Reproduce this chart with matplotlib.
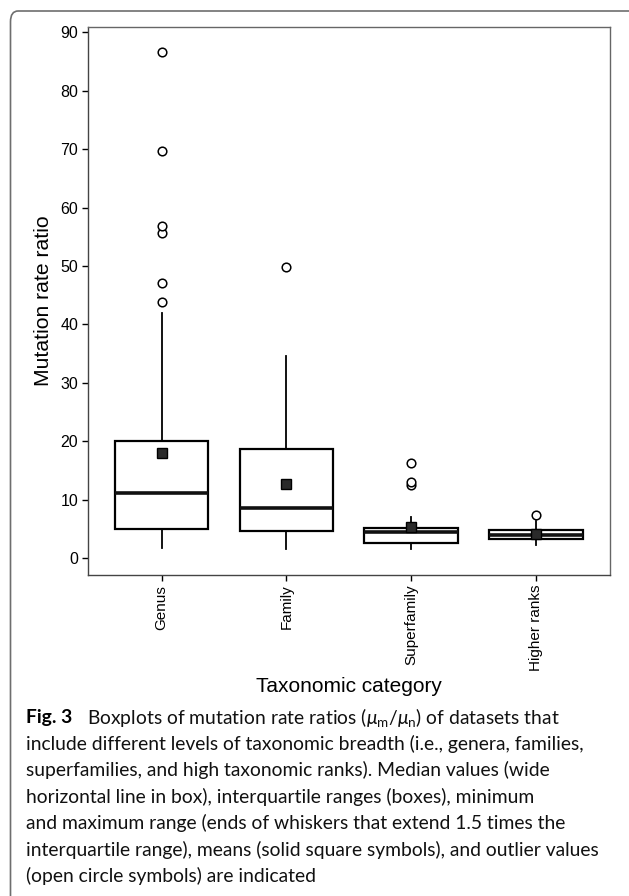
import matplotlib
matplotlib.use("Agg")
import matplotlib.pyplot as plt
from matplotlib.patches import FancyBboxPatch

# ---- data ----
categories = ["Genus", "Family", "Superfamily", "Higher ranks"]
q1 = [5.0, 4.55, 2.5, 3.3]
median = [11.1, 8.6, 4.4, 4.0]
q3 = [20.0, 18.6, 5.1, 4.85]
whisker_low = [1.7, 1.5, 1.5, 2.2]
whisker_high = [42.0, 34.6, 7.0, 6.4]
means = [17.9, 12.7, 5.4, 4.1]
outliers = [
    [43.8, 47.0, 55.6, 56.9, 69.7, 86.7],
    [49.8],
    [12.5, 13.1, 16.3],
    [7.4],
]
y_ticks = [0, 10, 20, 30, 40, 50, 60, 70, 80, 90]

caption_lines = [
    "include different levels of taxonomic breadth (i.e., genera, families,",
    "superfamilies, and high taxonomic ranks). Median values (wide",
    "horizontal line in box), interquartile ranges (boxes), minimum",
    "and maximum range (ends of whiskers that extend 1.5 times the",
    "interquartile range), means (solid square symbols), and outlier values",
    "(open circle symbols) are indicated",
]

W, H = 629, 896
fig = plt.figure(figsize=(W / 100, H / 100), dpi=100)
fig.patch.set_facecolor("white")

# outer rounded frame
frame = FancyBboxPatch((10.5 / W, -20 / H), (W + 10) / W, (H - 11 + 20) / H,
                       boxstyle="round,pad=0,rounding_size=0.012",
                       transform=fig.transFigure, fill=False,
                       edgecolor="#6e6e6e", linewidth=1.2, clip_on=False)
fig.patches.append(frame)

ax = fig.add_axes([88 / W, 1 - 575 / H, (609.5 - 88) / W, (575 - 27) / H])

stats = []
for i in range(len(categories)):
    stats.append(dict(label=categories[i], q1=q1[i], med=median[i], q3=q3[i],
                      whislo=whisker_low[i], whishi=whisker_high[i],
                      mean=means[i], fliers=outliers[i]))

positions = list(range(1, len(categories) + 1))
ax.bxp(stats, positions=positions, widths=0.75, showmeans=True, showcaps=False,
       patch_artist=True,
       boxprops=dict(facecolor="white", edgecolor="black", linewidth=1.6),
       medianprops=dict(color="#111111", linewidth=2.6),
       whiskerprops=dict(color="black", linewidth=1.3),
       flierprops=dict(marker="o", markerfacecolor="white", markeredgecolor="black",
                       markersize=6.2, markeredgewidth=1.1),
       meanprops=dict(marker="s", markerfacecolor="#2a2a2a", markeredgecolor="black",
                      markersize=6.5, markeredgewidth=1.0))

ax.set_xlim(0.41, 4.59)
ax.set_ylim(-2.9, 90.9)
ax.set_yticks(y_ticks)
ax.set_xticks(positions)
ax.set_xticklabels(categories, rotation=90, fontsize=11, family="Liberation Sans")
ax.set_yticklabels([str(t) for t in y_ticks], fontsize=11.5, family="Liberation Sans")
ax.tick_params(axis="both", direction="out", length=4, width=1.0, color="black", pad=3)
for s in ["top", "right"]:
    ax.spines[s].set_color("#666666")
    ax.spines[s].set_linewidth(1.0)
for s in ["left", "bottom"]:
    ax.spines[s].set_color("#444444")
    ax.spines[s].set_linewidth(1.0)

ax.set_ylabel("Mutation rate ratio", fontsize=15.2, family="Liberation Sans", labelpad=5)
fig.text(349 / W, 1 - 686 / H, "Taxonomic category", fontsize=15,
         family="Liberation Sans", ha="center", va="center")

# caption
plt.rcParams["mathtext.fontset"] = "custom"
plt.rcParams["mathtext.rm"] = "Lato"
plt.rcParams["mathtext.it"] = "Lato:italic"
cap_font = "Lato"
cap_size = 13.85
fig.text(26 / W, 1 - 717 / H, "Fig. 3", fontsize=cap_size, family=cap_font,
         fontweight="bold", ha="left", va="center")
fig.text(87 / W, 1 - 717 / H,
         r"Boxplots of mutation rate ratios ($\mu_\mathrm{m}/\mu_\mathrm{n}$) of datasets that",
         fontsize=cap_size, family=cap_font, ha="left", va="center", color="#111111")
y0 = 744
for k, line in enumerate(caption_lines):
    fig.text(26 / W, 1 - (y0 + k * 26.4) / H, line, fontsize=cap_size, family=cap_font,
             ha="left", va="center", color="#111111")

fig.savefig("out.png", dpi=100)
